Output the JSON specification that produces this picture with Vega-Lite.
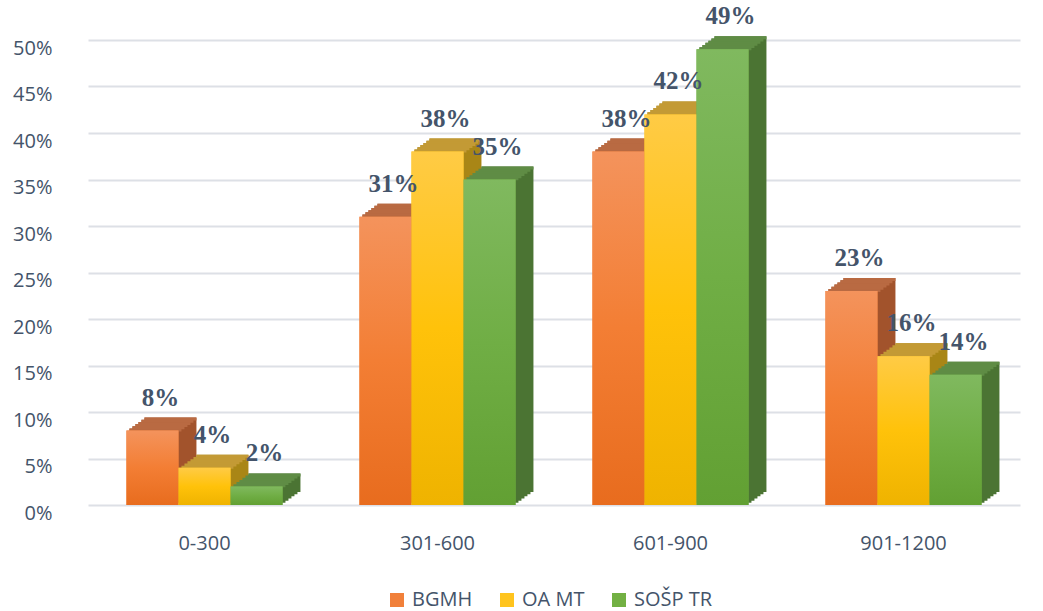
{
  "$schema": "https://vega.github.io/schema/vega-lite/v6.json",
  "width": 932,
  "height": 465,
  "autosize": "none",
  "padding": {"left": 88, "top": 40, "right": 23, "bottom": 106},
  "background": "white",
  "config": {"view": {"stroke": null}},
  "data": {
    "values": [
      {"range": "0-300", "school": "BGMH", "share": 0.08},
      {"range": "0-300", "school": "OA MT", "share": 0.04},
      {"range": "0-300", "school": "SOŠP TR", "share": 0.02},
      {"range": "301-600", "school": "BGMH", "share": 0.31},
      {"range": "301-600", "school": "OA MT", "share": 0.38},
      {"range": "301-600", "school": "SOŠP TR", "share": 0.35},
      {"range": "601-900", "school": "BGMH", "share": 0.38},
      {"range": "601-900", "school": "OA MT", "share": 0.42},
      {"range": "601-900", "school": "SOŠP TR", "share": 0.49},
      {"range": "901-1200", "school": "BGMH", "share": 0.23},
      {"range": "901-1200", "school": "OA MT", "share": 0.16},
      {"range": "901-1200", "school": "SOŠP TR", "share": 0.14}
    ]
  },
  "encoding": {
    "x": {
      "field": "range",
      "type": "nominal",
      "sort": ["0-300", "301-600", "601-900", "901-1200"],
      "scale": {"paddingInner": 0.33, "paddingOuter": 0.165},
      "axis": {
        "title": null,
        "labelAngle": 0,
        "labelFont": "Open Sans",
        "labelFontSize": 20,
        "labelColor": "#44546A",
        "labelPadding": 28,
        "ticks": false,
        "domain": false
      }
    },
    "y": {
      "field": "share",
      "type": "quantitative",
      "scale": {"domain": [0, 0.5], "nice": false},
      "axis": {
        "title": null,
        "format": ".0%",
        "values": [0, 0.05, 0.1, 0.15, 0.2, 0.25, 0.3, 0.35, 0.4, 0.45, 0.5],
        "labelFont": "Open Sans",
        "labelFontSize": 20,
        "labelColor": "#44546A",
        "labelPadding": 36,
        "labelOffset": 8,
        "ticks": false,
        "domain": false,
        "grid": true,
        "gridColor": "#DDE0E6",
        "gridWidth": 2
      }
    }
  },
  "resolve": {"scale": {"xOffset": "independent", "fill": "independent"}},
  "layer": [
    {"mark": {"type": "bar", "yOffset": -2.17, "y2Offset": -2.17},
     "encoding": {"xOffset": {"field": "school", "type": "nominal", "sort": ["BGMH", "OA MT", "SOŠP TR"], "scale": {"range": [3, 159], "paddingInner": 0, "paddingOuter": 0}},
       "fill": {"field": "school", "type": "nominal", "sort": ["BGMH", "OA MT", "SOŠP TR"], "scale": {"range": ["#A2532C", "#A98616", "#4B7433"]}, "legend": null}}},
    {"mark": {"type": "bar", "yOffset": -4.33, "y2Offset": -4.33},
     "encoding": {"xOffset": {"field": "school", "type": "nominal", "sort": ["BGMH", "OA MT", "SOŠP TR"], "scale": {"range": [6, 162], "paddingInner": 0, "paddingOuter": 0}},
       "fill": {"field": "school", "type": "nominal", "sort": ["BGMH", "OA MT", "SOŠP TR"], "scale": {"range": ["#A2532C", "#A98616", "#4B7433"]}, "legend": null}}},
    {"mark": {"type": "bar", "yOffset": -6.5, "y2Offset": -6.5},
     "encoding": {"xOffset": {"field": "school", "type": "nominal", "sort": ["BGMH", "OA MT", "SOŠP TR"], "scale": {"range": [9, 165], "paddingInner": 0, "paddingOuter": 0}},
       "fill": {"field": "school", "type": "nominal", "sort": ["BGMH", "OA MT", "SOŠP TR"], "scale": {"range": ["#A2532C", "#A98616", "#4B7433"]}, "legend": null}}},
    {"mark": {"type": "bar", "yOffset": -8.67, "y2Offset": -8.67},
     "encoding": {"xOffset": {"field": "school", "type": "nominal", "sort": ["BGMH", "OA MT", "SOŠP TR"], "scale": {"range": [12, 168], "paddingInner": 0, "paddingOuter": 0}},
       "fill": {"field": "school", "type": "nominal", "sort": ["BGMH", "OA MT", "SOŠP TR"], "scale": {"range": ["#A2532C", "#A98616", "#4B7433"]}, "legend": null}}},
    {"mark": {"type": "bar", "yOffset": -10.83, "y2Offset": -10.83},
     "encoding": {"xOffset": {"field": "school", "type": "nominal", "sort": ["BGMH", "OA MT", "SOŠP TR"], "scale": {"range": [15, 171], "paddingInner": 0, "paddingOuter": 0}},
       "fill": {"field": "school", "type": "nominal", "sort": ["BGMH", "OA MT", "SOŠP TR"], "scale": {"range": ["#A2532C", "#A98616", "#4B7433"]}, "legend": null}}},
    {"mark": {"type": "bar", "yOffset": -13, "y2Offset": -13},
     "encoding": {"xOffset": {"field": "school", "type": "nominal", "sort": ["BGMH", "OA MT", "SOŠP TR"], "scale": {"range": [18, 174], "paddingInner": 0, "paddingOuter": 0}},
       "fill": {"field": "school", "type": "nominal", "sort": ["BGMH", "OA MT", "SOŠP TR"], "scale": {"range": ["#A2532C", "#A98616", "#4B7433"]}, "legend": null}}},

    {"mark": {"type": "bar", "yOffset": -2.17, "y2Offset": 0.83},
     "encoding": {"y2": {"field": "share"}, "xOffset": {"field": "school", "type": "nominal", "sort": ["BGMH", "OA MT", "SOŠP TR"], "scale": {"range": [3, 159], "paddingInner": 0, "paddingOuter": 0}},
       "fill": {"field": "school", "type": "nominal", "sort": ["BGMH", "OA MT", "SOŠP TR"], "scale": {"range": ["#B96A42", "#C39A35", "#5F8C45"]}, "legend": null}}},
    {"mark": {"type": "bar", "yOffset": -4.33, "y2Offset": -1.33},
     "encoding": {"y2": {"field": "share"}, "xOffset": {"field": "school", "type": "nominal", "sort": ["BGMH", "OA MT", "SOŠP TR"], "scale": {"range": [6, 162], "paddingInner": 0, "paddingOuter": 0}},
       "fill": {"field": "school", "type": "nominal", "sort": ["BGMH", "OA MT", "SOŠP TR"], "scale": {"range": ["#B96A42", "#C39A35", "#5F8C45"]}, "legend": null}}},
    {"mark": {"type": "bar", "yOffset": -6.5, "y2Offset": -3.5},
     "encoding": {"y2": {"field": "share"}, "xOffset": {"field": "school", "type": "nominal", "sort": ["BGMH", "OA MT", "SOŠP TR"], "scale": {"range": [9, 165], "paddingInner": 0, "paddingOuter": 0}},
       "fill": {"field": "school", "type": "nominal", "sort": ["BGMH", "OA MT", "SOŠP TR"], "scale": {"range": ["#B96A42", "#C39A35", "#5F8C45"]}, "legend": null}}},
    {"mark": {"type": "bar", "yOffset": -8.67, "y2Offset": -5.67},
     "encoding": {"y2": {"field": "share"}, "xOffset": {"field": "school", "type": "nominal", "sort": ["BGMH", "OA MT", "SOŠP TR"], "scale": {"range": [12, 168], "paddingInner": 0, "paddingOuter": 0}},
       "fill": {"field": "school", "type": "nominal", "sort": ["BGMH", "OA MT", "SOŠP TR"], "scale": {"range": ["#B96A42", "#C39A35", "#5F8C45"]}, "legend": null}}},
    {"mark": {"type": "bar", "yOffset": -10.83, "y2Offset": -7.83},
     "encoding": {"y2": {"field": "share"}, "xOffset": {"field": "school", "type": "nominal", "sort": ["BGMH", "OA MT", "SOŠP TR"], "scale": {"range": [15, 171], "paddingInner": 0, "paddingOuter": 0}},
       "fill": {"field": "school", "type": "nominal", "sort": ["BGMH", "OA MT", "SOŠP TR"], "scale": {"range": ["#B96A42", "#C39A35", "#5F8C45"]}, "legend": null}}},
    {"mark": {"type": "bar", "yOffset": -13, "y2Offset": -10},
     "encoding": {"y2": {"field": "share"}, "xOffset": {"field": "school", "type": "nominal", "sort": ["BGMH", "OA MT", "SOŠP TR"], "scale": {"range": [18, 174], "paddingInner": 0, "paddingOuter": 0}},
       "fill": {"field": "school", "type": "nominal", "sort": ["BGMH", "OA MT", "SOŠP TR"], "scale": {"range": ["#B96A42", "#C39A35", "#5F8C45"]}, "legend": null}}},

    {"mark": {"type": "bar"},
     "encoding": {
       "xOffset": {"field": "school", "type": "nominal", "sort": ["BGMH", "OA MT", "SOŠP TR"], "scale": {"paddingInner": 0, "paddingOuter": 0}},
       "color": {
         "field": "school", "type": "nominal", "sort": ["BGMH", "OA MT", "SOŠP TR"],
         "scale": {"range": ["#F1803A", "#FFC41E", "#72B043"]},
         "legend": {
           "title": null, "orient": "none", "legendX": 299, "legendY": 550,
           "direction": "horizontal", "symbolType": "square", "symbolSize": 196,
           "symbolStrokeWidth": 0, "labelFont": "Open Sans", "labelFontSize": 20,
           "labelColor": "#44546A", "labelOffset": 5, "columnPadding": 24
         }
       }
     }},
    {"transform": [{"filter": "datum.school === 'BGMH'"}],
     "mark": {"type": "bar", "fill": {"gradient": "linear", "x1": 0, "y1": 0, "x2": 0, "y2": 1, "stops": [{"offset": 0, "color": "#F4935C"}, {"offset": 0.5, "color": "#F37E34"}, {"offset": 1, "color": "#E86C1E"}]}},
     "encoding": {"xOffset": {"field": "school", "type": "nominal", "sort": ["BGMH", "OA MT", "SOŠP TR"], "scale": {"domain": ["BGMH", "OA MT", "SOŠP TR"], "paddingInner": 0, "paddingOuter": 0}}}},
    {"transform": [{"filter": "datum.school === 'OA MT'"}],
     "mark": {"type": "bar", "fill": {"gradient": "linear", "x1": 0, "y1": 0, "x2": 0, "y2": 1, "stops": [{"offset": 0, "color": "#FFCB45"}, {"offset": 0.5, "color": "#FFC20A"}, {"offset": 1, "color": "#EFB300"}]}},
     "encoding": {"xOffset": {"field": "school", "type": "nominal", "sort": ["BGMH", "OA MT", "SOŠP TR"], "scale": {"domain": ["BGMH", "OA MT", "SOŠP TR"], "paddingInner": 0, "paddingOuter": 0}}}},
    {"transform": [{"filter": "datum.school === 'SOŠP TR'"}],
     "mark": {"type": "bar", "fill": {"gradient": "linear", "x1": 0, "y1": 0, "x2": 0, "y2": 1, "stops": [{"offset": 0, "color": "#80B95F"}, {"offset": 0.5, "color": "#70AE45"}, {"offset": 1, "color": "#62A033"}]}},
     "encoding": {"xOffset": {"field": "school", "type": "nominal", "sort": ["BGMH", "OA MT", "SOŠP TR"], "scale": {"domain": ["BGMH", "OA MT", "SOŠP TR"], "paddingInner": 0, "paddingOuter": 0}}}},
    {"mark": {"type": "text", "baseline": "bottom", "dy": -20, "dx": 8, "font": "Liberation Serif", "fontWeight": "bold", "fontSize": 25, "color": "#44546A"},
     "encoding": {
       "xOffset": {"field": "school", "type": "nominal", "sort": ["BGMH", "OA MT", "SOŠP TR"], "scale": {"type": "band", "paddingInner": 0, "paddingOuter": 0}},
       "text": {"field": "share", "type": "quantitative", "format": ".0%"}
     }}
  ]
}
